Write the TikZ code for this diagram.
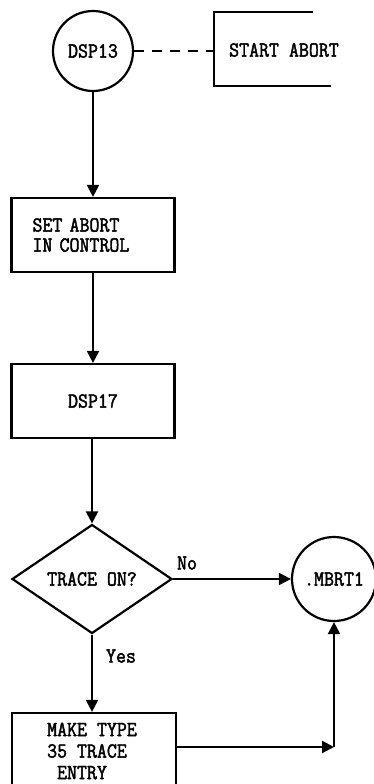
\documentclass[tikz,border=0pt]{standalone}
\usepackage{fontspec}
\newfontfamily\tw[FakeBold=2,FakeStretch=0.9]{Latin Modern Mono}
\usetikzlibrary{shapes.geometric,arrows.meta}
\begin{document}
\begin{tikzpicture}[x=1pt,y=-1pt,
  every node/.style={font=\tw\fontsize{21.5}{20}\selectfont},
  ln/.style={line width=2.2pt},
  arr/.style={ln,-{Triangle[width=12pt,length=12pt]}},
  proc/.style={draw,ln,minimum width=163pt,minimum height=74pt,inner sep=0pt},
  conn/.style={draw,ln,circle,minimum size=80pt,inner sep=0pt},
  dec/.style={draw,ln,diamond,minimum width=160pt,minimum height=109pt,inner sep=0pt},
  lbl/.style={inner sep=0pt}]
\useasboundingbox (0,0) rectangle (374,784);
\clip (0,0) rectangle (374,784);
% nodes
\node[conn] (dsp13) at (93,51) {DSP13};
\node[lbl] (note) at (284,50) {START ABORT};
\coordinate (bt) at (214,12);
\coordinate (bb) at (214,86);
\node[proc,text width=121pt,align=left] (set) at (93,235) {SET ABORT\\IN CONTROL};
\node[proc] (dsp17) at (93,401) {DSP17};
\node[dec] (trace) at (92,579) {TRACE ON?};
\node[conn,minimum size=84pt] (mbrt) at (334,579) {.MBRT1};
\node[proc,minimum width=164pt,minimum height=82pt,inner ysep=0pt] (make) at (94,754) {};
\node[lbl,align=left,font=\tw\fontsize{21.5}{21.5}\selectfont] (maketext) at (92,751) {MAKE TYPE\\35 TRACE\\\hphantom{E}ENTRY};
\coordinate (corner) at (334,747);
\node[lbl] (no) at (187,563) {No};
\node[lbl] (yes) at (121,656) {Yes};
% annotation bracket
\draw[ln] (313,12) -- (bt) -- (bb) -- (331,86);
\draw[ln,dash pattern=on 10pt off 8pt] (dsp13.east) -- (dsp13.east -| bt);
% flow
\draw[arr] (dsp13.south) -- (dsp13.south |- set.north);
\draw[arr] (set.south) -- (dsp17.north);
\draw[arr] (dsp17.south -| trace.north) -- (trace.north);
\draw[arr] (trace.east) -- (mbrt.west);
\draw[arr] (trace.south) -- (trace.south |- make.north);
\draw[arr] (make.east |- corner) -- (corner);
\draw[arr] (corner) -- (mbrt.south);
\end{tikzpicture}
\end{document}
